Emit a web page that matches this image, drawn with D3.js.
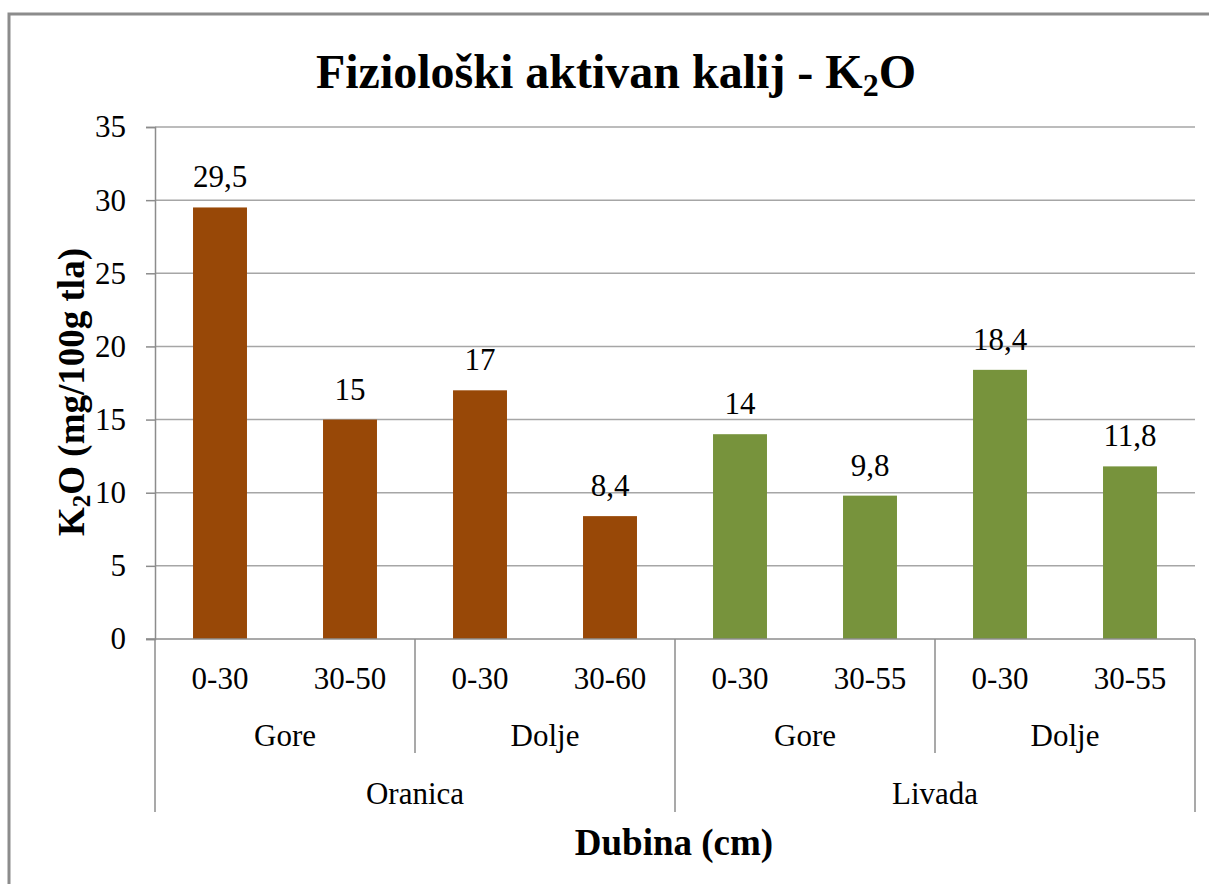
<!DOCTYPE html>
<html><head><meta charset="utf-8">
<script src="https://cdn.jsdelivr.net/npm/d3@7"></script>
<style>
html,body{margin:0;padding:0;background:#fff;}
</style></head>
<body>
<svg id="c" width="1209" height="884"></svg>
<script>
const depths = ["0-30","30-50","0-30","30-60","0-30","30-55","0-30","30-55"];
const positions = ["Gore","Dolje","Gore","Dolje"];
const landUse = ["Oranica","Livada"];
const values = [29.5,15,17,8.4,14,9.8,18.4,11.8];
const valueLabels = ["29,5","15","17","8,4","14","9,8","18,4","11,8"];
const barColors = ["#984807","#984807","#984807","#984807","#77933C","#77933C","#77933C","#77933C"];
const yTicks = [0,5,10,15,20,25,30,35];

const FONT = '"Liberation Serif"';
const svg = d3.select("#c");
const L = 155, R = 1195, T = 127, B = 639;
const FS = 31;

function txt(sel, size, weight){
  return sel.style("font-family",FONT).style("font-size",size+"px")
    .style("font-weight",weight||400).style("fill","#000");
}

svg.append("rect").attr("x",9).attr("y",14).attr("width",1300).attr("height",1000)
  .attr("fill","none").attr("stroke","#8c8c8c").attr("stroke-width",3);

const idx = d3.range(depths.length);
const x = d3.scaleBand().domain(idx).range([L,R]).paddingInner(0).paddingOuter(0);
const y = d3.scaleLinear().domain([0,35]).range([B,T]);

svg.append("g").selectAll("line").data(yTicks.filter(d=>d>0)).join("line")
  .attr("x1",L).attr("x2",R).attr("y1",d=>y(d)).attr("y2",d=>y(d))
  .attr("stroke","#a6a6a6").attr("stroke-width",1.5);

const ya = svg.append("g").attr("transform",`translate(${L},0)`)
  .call(d3.axisLeft(y).tickValues(yTicks).tickSize(9).tickPadding(20).tickFormat(d3.format("d")));
ya.attr("font-family",null).attr("font-size",null);
ya.select(".domain").attr("stroke","#8c8c8c").attr("stroke-width",1.5);
ya.selectAll(".tick line").attr("stroke","#8c8c8c").attr("stroke-width",1.5);
txt(ya.selectAll(".tick text"),FS);

const bw = x.bandwidth()*0.415;
svg.append("g").selectAll("rect").data(idx).join("rect")
  .attr("x",i=>x(i)+x.bandwidth()/2-bw/2).attr("width",bw)
  .attr("y",i=>y(values[i])).attr("height",i=>y(0)-y(values[i]))
  .attr("fill",i=>barColors[i]);

txt(svg.append("g").selectAll("text").data(idx).join("text")
  .attr("x",i=>x(i)+x.bandwidth()/2).attr("y",i=>y(values[i])-20)
  .attr("text-anchor","middle").text(i=>valueLabels[i]),FS);

svg.append("line").attr("x1",L-9).attr("x2",R).attr("y1",B).attr("y2",B)
  .attr("stroke","#8c8c8c").attr("stroke-width",1.5);

txt(svg.append("g").selectAll("text").data(idx).join("text")
  .attr("x",i=>x(i)+x.bandwidth()/2).attr("y",689)
  .attr("text-anchor","middle").text(i=>depths[i]),FS);

const gw = x.bandwidth()*2;
txt(svg.append("g").selectAll("text").data(positions).join("text")
  .attr("x",(d,i)=>L+gw*i+gw/2).attr("y",746)
  .attr("text-anchor","middle").text(d=>d),FS);

const ow = x.bandwidth()*4;
txt(svg.append("g").selectAll("text").data(landUse).join("text")
  .attr("x",(d,i)=>L+ow*i+ow/2).attr("y",804)
  .attr("text-anchor","middle").text(d=>d),FS);

const sepG = svg.append("g").attr("stroke","#8c8c8c").attr("stroke-width",1.5);
[1,3].forEach(k=>{
  const xx = L+gw*k;
  sepG.append("line").attr("x1",xx).attr("x2",xx).attr("y1",B).attr("y2",753);
});
[0,1,2].forEach(k=>{
  const xx = L+ow*k;
  sepG.append("line").attr("x1",xx).attr("x2",xx).attr("y1",B).attr("y2",812);
});

const t = txt(svg.append("text").attr("x",616).attr("y",88).attr("text-anchor","middle"),48,700);
t.append("tspan").text("Fiziološki aktivan kalij - K");
t.append("tspan").style("font-size","32px").attr("dy",8).text("2");
t.append("tspan").attr("dy",-8).text("O");

txt(svg.append("text").attr("x",674).attr("y",855).attr("text-anchor","middle")
  .text("Dubina (cm)"),37,700);

const yt = txt(svg.append("text").attr("transform","translate(84,392) rotate(-90)")
  .attr("text-anchor","middle"),37,700);
yt.append("tspan").text("K");
yt.append("tspan").style("font-size","25px").attr("dy",6).text("2");
yt.append("tspan").attr("dy",-6).text("O (mg/100g tla)");
</script>
</body></html>
